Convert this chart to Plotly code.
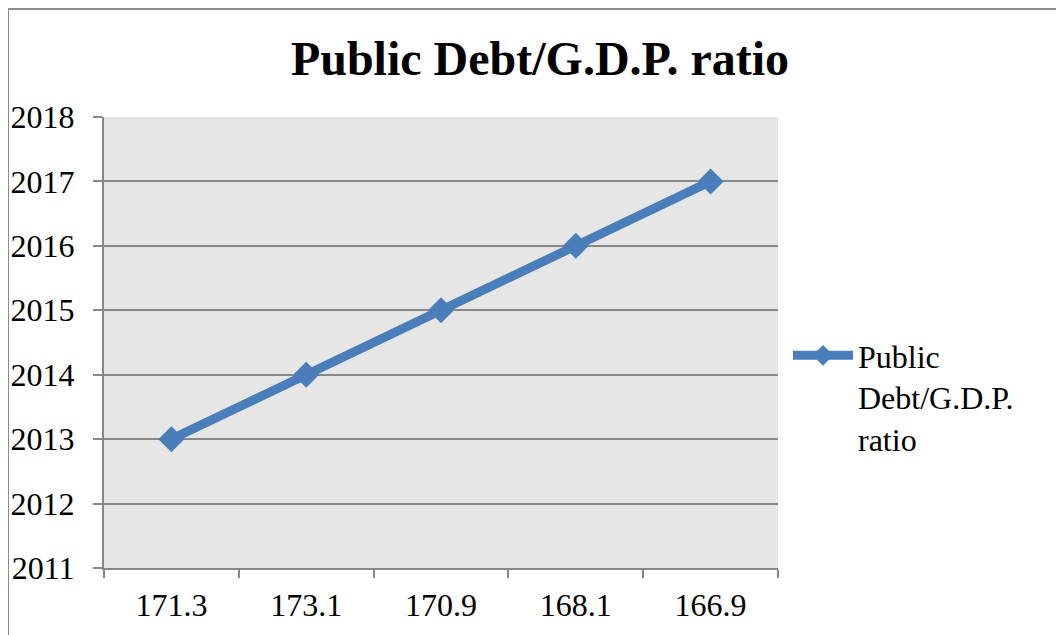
import plotly.graph_objects as go

categories = ["171.3", "173.1", "170.9", "168.1", "166.9"]
years = [2013, 2014, 2015, 2016, 2017]
series_name = "Public<br>Debt/G.D.P.<br>ratio"
title_text = "Public Debt/G.D.P. ratio"

# the page body adds an 8px margin, so the figure is drawn 8px smaller
W, H = 1056, 627
L, R, T, B = 96, 286, 109, 67
pw = W - L - R
ph = H - T - B

fig = go.Figure()
fig.add_trace(go.Scatter(
    x=categories, y=years, name=series_name, mode="lines+markers",
    line=dict(color="#4A7EBB", width=9),
    marker=dict(symbol="diamond", size=20, color="#4A7EBB"),
    showlegend=True,
))

font_family = "Liberation Serif, Times New Roman, serif"
fig.update_layout(
    width=W, height=H,
    margin=dict(l=L, r=R, t=T, b=B, autoexpand=False),
    paper_bgcolor="white",
    plot_bgcolor="#E6E6E6",
    font=dict(family=font_family, color="black", size=32),
    title=dict(text="<b>" + title_text + "</b>", x=532 / W, xanchor="center",
               y=1 - 50 / H, yanchor="middle", yref="container",
               font=dict(size=48, family=font_family, color="black")),
    showlegend=True,
    legend=dict(x=(780 - L) / pw, xanchor="left", y=1 - (320 - T) / ph, yanchor="top",
                valign="top",
                font=dict(size=32, family=font_family), bgcolor="rgba(0,0,0,0)",
                itemwidth=60, tracegroupgap=0),
    xaxis=dict(type="category", range=[-0.5, len(categories) - 0.5],
               tickson="boundaries", ticks="outside", ticklen=8,
               tickcolor="#878787", tickwidth=2, showline=True, linecolor="#878787",
               linewidth=2, showgrid=False, ticklabelstandoff=8, automargin=False,
               tickfont=dict(size=32, family=font_family)),
    yaxis=dict(range=[2011, 2018], dtick=1, ticks="outside", ticklen=9,
               tickcolor="#878787", tickwidth=2, showline=True, linecolor="#878787",
               linewidth=2, showgrid=True, gridcolor="#878787", gridwidth=2,
               zeroline=False, ticklabelstandoff=12, automargin=False,
               tickfont=dict(size=32, family=font_family)),
)

fig.add_shape(type="rect", xref="paper", yref="paper",
              x0=(0 - L) / pw, x1=(1200 - L) / pw,
              y0=1 - (800 - T) / ph, y1=1 + (T - 1) / ph,
              line=dict(color="#8C8C8C", width=2), fillcolor="rgba(0,0,0,0)", layer="below")

fig.write_html("out.html")
